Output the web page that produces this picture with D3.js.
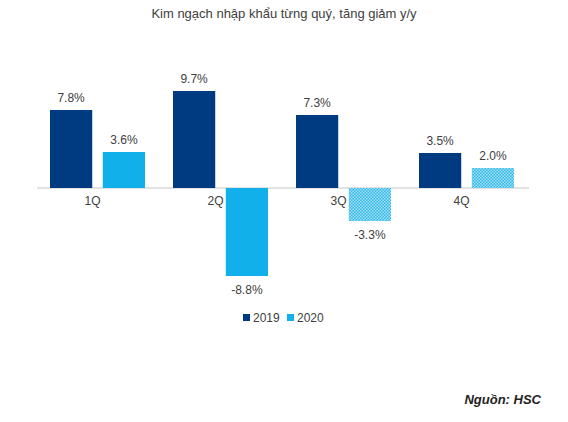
<!DOCTYPE html><html><head><meta charset="utf-8"><script src="https://cdn.jsdelivr.net/npm/d3@7"></script>
<style>body{margin:0;background:#fff}text{font-family:Arial,"Liberation Sans",sans-serif}</style></head><body><svg id="c" width="568" height="422"></svg><script>
const categories=["1Q","2Q","3Q","4Q"];
const series=["2019","2020"];
const v2019=[7.8,9.7,7.3,3.5];
const v2020=[3.6,-8.8,-3.3,2.0];
const hatched2020=[false,false,true,true];
const svg=d3.select("#c");
const defs=svg.append("defs");
const p=defs.append("pattern").attr("id","dots").attr("width",3).attr("height",3).attr("patternUnits","userSpaceOnUse");
p.append("rect").attr("width",3).attr("height",3).attr("fill","#2db8ee");
p.append("rect").attr("width",1.5).attr("height",1.5).attr("fill","#a8e0f7");
p.append("rect").attr("x",1.5).attr("y",1.5).attr("width",1.5).attr("height",1.5).attr("fill","#a8e0f7");
const colors={"2019":"#003a80","2020":"#12b0ea"};
const x0=d3.scaleBand().domain(categories).range([37,529]);
const x1=d3.scaleBand().domain(series).range([13,108]).paddingInner(0.2);
const y=d3.scaleLinear().domain([-10,10]).range([288,88]);
svg.append("text").attr("x",284).attr("y",18).attr("text-anchor","middle").attr("font-size",13).attr("fill","#404040").text("Kim ngạch nhập khẩu từng quý, tăng giảm y/y");
svg.append("line").attr("x1",37).attr("x2",529).attr("y1",y(0)).attr("y2",y(0)).attr("stroke","#d9d9d9").attr("stroke-width",1.5);
const data=[];
categories.forEach((c,i)=>{data.push({c,s:"2019",v:v2019[i],h:false});data.push({c,s:"2020",v:v2020[i],h:hatched2020[i]});});
const g=svg.append("g");
g.selectAll("rect").data(data).join("rect").attr("x",d=>x0(d.c)+x1(d.s)).attr("width",x1.bandwidth())
 .attr("y",d=>y(Math.max(0,d.v))).attr("height",d=>Math.abs(y(d.v)-y(0)))
 .attr("fill",d=>d.h?"url(#dots)":colors[d.s]);
g.selectAll("text").data(data).join("text").attr("x",d=>x0(d.c)+x1(d.s)+x1.bandwidth()/2)
 .attr("y",d=>d.v>=0?y(d.v)-8:y(d.v)+18).attr("text-anchor","middle").attr("font-size",12).attr("fill","#404040")
 .text(d=>d.v.toFixed(1)+"%");
svg.append("g").selectAll("text").data(categories).join("text").attr("x",d=>x0(d)+x0.bandwidth()/2-6).attr("y",y(0)+17)
 .attr("text-anchor","middle").attr("font-size",12).attr("fill","#404040").text(d=>d);
const lg=svg.append("g");
series.forEach((s,i)=>{const lx=243+i*44;
 lg.append("rect").attr("x",lx).attr("y",314).attr("width",7).attr("height",7).attr("fill",colors[s]);
 lg.append("text").attr("x",lx+10).attr("y",322).attr("font-size",12).attr("fill","#404040").text(s);});
svg.append("text").attr("x",541).attr("y",404).attr("text-anchor","end").attr("font-size",13).attr("font-style","italic").attr("font-weight","bold").attr("fill","#222").text("Nguồn: HSC");
</script></body></html>
